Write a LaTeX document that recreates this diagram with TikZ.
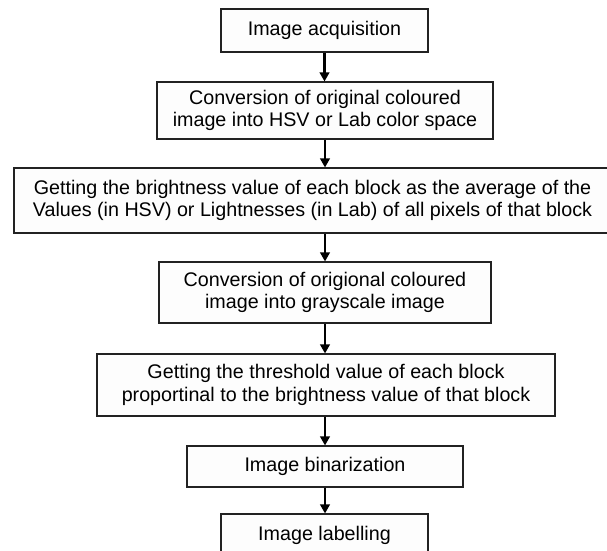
\documentclass[tikz,border=0pt]{standalone}
\usepackage{fontspec}
\setmainfont{Liberation Sans}
\usetikzlibrary{arrows.meta}
\definecolor{edge}{HTML}{222222}
\definecolor{boxfill}{HTML}{FDFDFD}
\tikzset{
  stepbox/.style={draw=edge, line width=1.1pt, fill=boxfill, align=center, inner sep=0pt,
    font=\fontsize{19.7}{22.5}\selectfont, text=black},
  flow/.style={line width=2.2pt, draw=black, -{Triangle[length=9pt,width=9.5pt]}}
}
\begin{document}
\begin{tikzpicture}[x=1pt,y=-1pt]
\useasboundingbox (0,0) rectangle (607,550);
\clip (0,0) rectangle (607,550);
\fill[white] (0,0) rectangle (607,550);
\node[stepbox, minimum width=207pt, minimum height=43pt] (b1) at (324.5,30.5) {Image acquisition};
\node[stepbox, minimum width=336pt, minimum height=57pt] (b2) at (325,110.5) {Conversion of original coloured\\image into HSV or Lab color space};
\node[stepbox, minimum width=597pt, minimum height=65pt] (b3) at (312.5,200.5) {Getting the brightness value of each block as the average of the\\Values (in HSV) or Lightnesses (in Lab) of all pixels of that block};
\node[stepbox, minimum width=332pt, minimum height=61pt] (b4) at (325,292.5) {Conversion of origional coloured\\image into grayscale image};
\node[stepbox, minimum width=458pt, minimum height=62pt] (b5) at (326,385) {Getting the threshold value of each block\\proportinal to the brightness value of that block};
\node[stepbox, minimum width=276pt, minimum height=41pt] (b6) at (325,466.5) {Image binarization};
\node[stepbox, minimum width=207pt, minimum height=42pt] (b7) at (324.5,535) {Image labelling};
\draw[flow] (b1.south) -- (b1.south |- b2.north);
\draw[flow] (b2.south) -- (b2.south |- b3.north);
\draw[flow] (b2.south |- b3.south) -- (b4.north);
\draw[flow] (b4.south) -- (b4.south |- b5.north);
\draw[flow] (b6.north |- b5.south) -- (b6.north);
\draw[flow] (b6.south) -- (b6.south |- b7.north);
\end{tikzpicture}
\end{document}
